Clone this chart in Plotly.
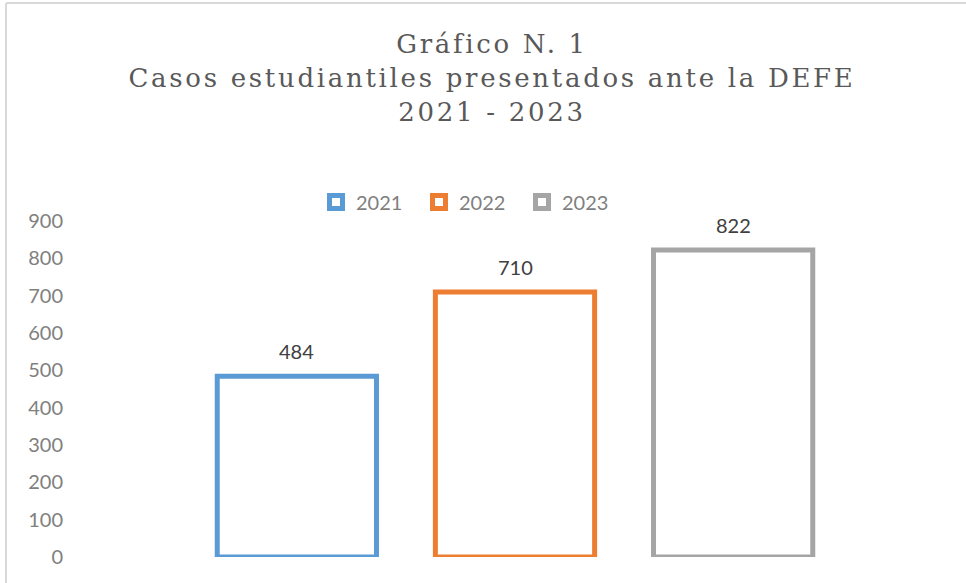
import plotly.graph_objects as go

# ---- data ----
years = ["2021", "2022", "2023"]
cases = [484, 710, 822]
colors = ["#5B9BD5", "#ED7D31", "#A5A5A5"]
y_ticks = [0, 100, 200, 300, 400, 500, 600, 700, 800, 900]
title_lines = ["Gráfico N. 1", "Casos estudiantiles presentados ante la DEFE", "2021 - 2023"]

W, H = 966, 583
ML, MR, MT, MB = 70, 6, 221, 26
PW, PH = W - ML - MR, H - MT - MB

fig = go.Figure()
for i, (yr, val, col) in enumerate(zip(years, cases, colors)):
    fig.add_trace(go.Bar(
        x=[yr], y=[val], name=yr, legendgroup=yr, showlegend=False,
        marker=dict(color="white", line=dict(color=col, width=5)),
        hoverinfo="x+y",
    ))
    # legend proxy (hollow square like the original)
    fig.add_trace(go.Scatter(
        x=[None], y=[None], mode="markers", name=yr, legendgroup=yr,
        marker=dict(symbol="square", size=13, color="white",
                    line=dict(color=col, width=5)),
    ))
    fig.add_annotation(
        x=i, y=val, text=str(val), showarrow=False,
        yanchor="middle", yshift=25,
        font=dict(family="Lato", size=20, color="#404040"),
    )

fig.update_layout(
    width=W, height=H, autosize=False,
    margin=dict(l=ML, r=MR, t=MT, b=MB),
    paper_bgcolor="white", plot_bgcolor="white",
    barmode="overlay", bargap=0.27,
    title=dict(
        text="<br>".join(title_lines),
        x=492 / W, xref="container", xanchor="center",
        y=1 - 53 / H, yref="container", yanchor="top",
        font=dict(family="DejaVu Serif", size=26, color="#595959"),
    ),
    showlegend=True,
    legend=dict(
        orientation="h", x=(330 - ML - 14) / PW, xanchor="left",
        y=1 + 19 / PH, yanchor="middle",
        font=dict(family="Lato", size=20, color="#7F7F7F"),
        entrywidth=58, entrywidthmode="pixels",
        itemclick=False, itemdoubleclick=False,
        traceorder="normal",
    ),
    xaxis=dict(
        type="category", categoryorder="array", categoryarray=years,
        range=[-1.04, 3.04], showticklabels=False, showgrid=False,
        zeroline=False, showline=False, ticks="",
    ),
    yaxis=dict(
        range=[0, 900], tickvals=y_ticks, showgrid=False, zeroline=False,
        showline=False, ticks="", ticklabelstandoff=6,
        tickfont=dict(family="Lato", size=20, color="#808080"),
    ),
    shapes=[
        dict(type="line", xref="paper", yref="paper",
             x0=(6 - ML) / PW, x1=(6 - ML) / PW,
             y0=(H - MB - 3) / PH, y1=-MB / PH,
             line=dict(color="#D9D9D9", width=2)),
        dict(type="line", xref="paper", yref="paper",
             x0=(6 - ML) / PW, x1=1 + MR / PW,
             y0=(H - MB - 3) / PH, y1=(H - MB - 3) / PH,
             line=dict(color="#D9D9D9", width=2)),
    ],
)

post = """
document.body.style.margin = '0';
var gd = document.getElementById('{plot_id}');
function spaceTitle() {
  document.querySelectorAll('.gtitle').forEach(function (e) {
    e.style.letterSpacing = '2.7px';
  });
}
spaceTitle();
if (gd && gd.on) { gd.on('plotly_afterplot', spaceTitle); }
"""
fig.write_html("out.html", post_script=post,
               config={"displayModeBar": False})
